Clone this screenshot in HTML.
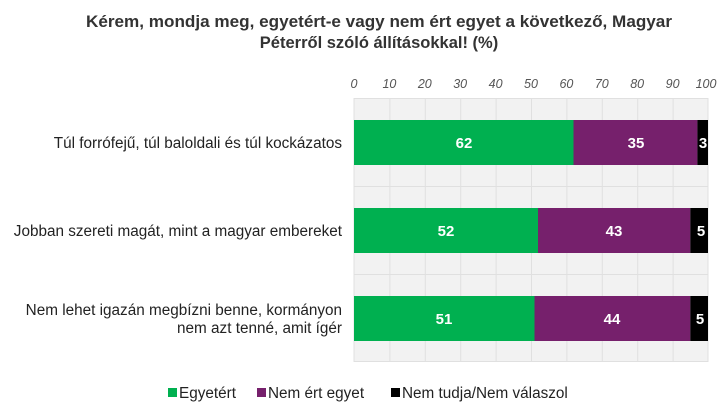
<!DOCTYPE html>
<html><head><meta charset="utf-8"><style>
html,body{margin:0;padding:0;background:#fff;}
svg{display:block;font-family:"Liberation Sans",Arial,sans-serif;}
</style></head><body>
<svg width="727" height="406" viewBox="0 0 727 406" xmlns="http://www.w3.org/2000/svg">
<text x="379" y="27" text-anchor="middle" font-size="16.5" font-weight="bold" fill="#333" textLength="586" lengthAdjust="spacingAndGlyphs">Kérem, mondja meg, egyetért-e vagy nem ért egyet a következő, Magyar</text>
<text x="379" y="48" text-anchor="middle" font-size="16.5" font-weight="bold" fill="#333">Péterről szóló állításokkal! (%)</text>
<rect x="354" y="98" width="354" height="264" fill="#f2f2f2"/>
<g stroke="#e0e0e0" stroke-width="1">
<line x1="389.9" y1="98" x2="389.9" y2="362"/><line x1="425.3" y1="98" x2="425.3" y2="362"/><line x1="460.7" y1="98" x2="460.7" y2="362"/><line x1="496.1" y1="98" x2="496.1" y2="362"/><line x1="531.5" y1="98" x2="531.5" y2="362"/><line x1="566.9" y1="98" x2="566.9" y2="362"/><line x1="602.3" y1="98" x2="602.3" y2="362"/><line x1="637.7" y1="98" x2="637.7" y2="362"/><line x1="673.1" y1="98" x2="673.1" y2="362"/><line x1="708" y1="98" x2="708" y2="362"/><line x1="354" y1="98" x2="354" y2="362"/>
<line x1="354" y1="98.5" x2="708" y2="98.5"/><line x1="354" y1="186.5" x2="708" y2="186.5"/><line x1="354" y1="274.5" x2="708" y2="274.5"/><line x1="354" y1="361.5" x2="708" y2="361.5"/>
</g>
<g font-style="italic" font-size="12.5" fill="#555" text-anchor="middle">
<text x="354" y="88">0</text><text x="389.4" y="88">10</text><text x="424.8" y="88">20</text><text x="460.2" y="88">30</text><text x="495.6" y="88">40</text><text x="531" y="88">50</text><text x="566.4" y="88">60</text><text x="601.8" y="88">70</text><text x="637.2" y="88">80</text><text x="672.6" y="88">90</text><text x="706" y="88">100</text>
</g>
<rect x="354" y="120" width="219.5" height="45" fill="#00b050"/>
<rect x="573.5" y="120" width="123.9" height="45" fill="#76206c"/>
<rect x="697.4" y="120" width="10.6" height="45" fill="#000"/>
<rect x="354" y="208" width="184" height="45" fill="#00b050"/>
<rect x="538" y="208" width="152.3" height="45" fill="#76206c"/>
<rect x="690.3" y="208" width="17.7" height="45" fill="#000"/>
<rect x="354" y="296" width="180.5" height="45" fill="#00b050"/>
<rect x="534.5" y="296" width="155.8" height="45" fill="#76206c"/>
<rect x="690.3" y="296" width="17.7" height="45" fill="#000"/>
<g font-weight="bold" font-size="15" fill="#fff" text-anchor="middle">
<text x="464" y="148">62</text><text x="636" y="148">35</text><text x="703" y="148">3</text>
<text x="446" y="236">52</text><text x="614" y="236">43</text><text x="701" y="236">5</text>
<text x="444" y="324">51</text><text x="612" y="324">44</text><text x="700" y="324">5</text>
</g>
<g font-size="15.3" fill="#222" text-anchor="end">
<text x="342" y="148">Túl forrófejű, túl baloldali és túl kockázatos</text>
<text x="342" y="236">Jobban szereti magát, mint a magyar embereket</text>
<text x="342" y="315">Nem lehet igazán megbízni benne, kormányon</text>
<text x="342" y="333">nem azt tenné, amit ígér</text>
</g>
<rect x="168" y="388" width="9" height="9" fill="#00b050"/>
<rect x="257" y="388" width="9" height="9" fill="#76206c"/>
<rect x="391" y="388" width="9" height="9" fill="#000"/>
<g font-size="15.3" fill="#222">
<text x="179" y="398">Egyetért</text>
<text x="268" y="398">Nem ért egyet</text>
<text x="402" y="398">Nem tudja/Nem válaszol</text>
</g>
</svg>
</body></html>
